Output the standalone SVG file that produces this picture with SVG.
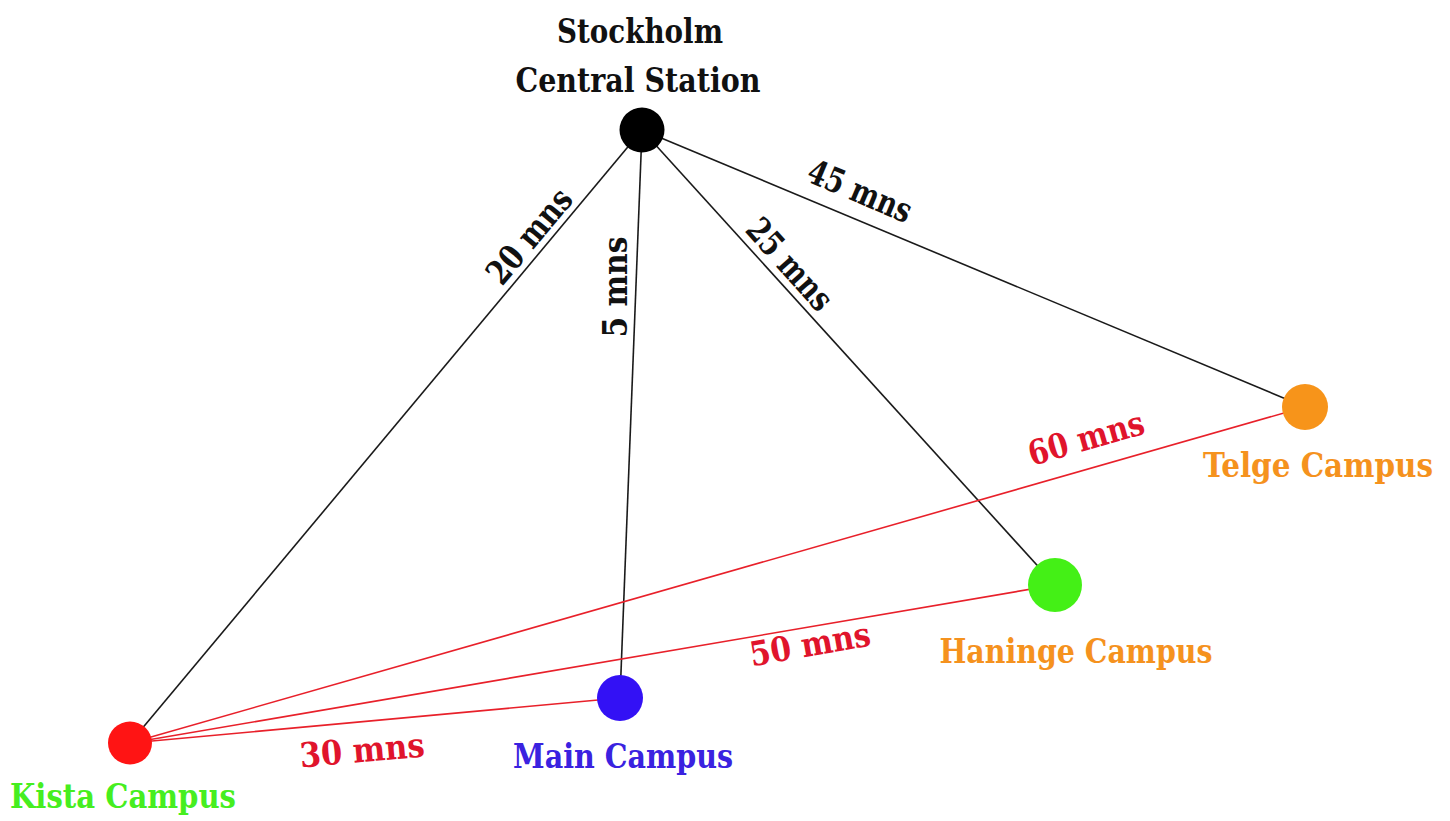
<svg xmlns="http://www.w3.org/2000/svg" width="1450" height="821" viewBox="0 0 1450 821">
<style>
text{font-family:"DejaVu Serif Condensed","DejaVu Serif","Liberation Serif",serif;font-weight:bold;font-size:34px;}
.lbl{text-anchor:middle;}
.el{text-anchor:middle;dominant-baseline:central;}
.blk{stroke:#1a1a1a;stroke-width:1.6;fill:none;}
.red{stroke:#e8202a;stroke-width:1.6;fill:none;}
.tb{fill:#111;}
.tr{fill:#e0142c;}
.to{fill:#f5921e;}
</style>
<rect width="1450" height="821" fill="#fff"/>
<g id="connectors">
<line class="blk" x1="642" y1="130" x2="130" y2="743"/>
<line class="blk" x1="642" y1="130" x2="620" y2="698"/>
<line class="blk" x1="642" y1="130" x2="1055" y2="585"/>
<line class="blk" x1="642" y1="130" x2="1305" y2="407"/>
<line class="red" x1="130" y1="743" x2="1305" y2="407"/>
<line class="red" x1="130" y1="743" x2="1055" y2="585"/>
<line class="red" x1="130" y1="743" x2="620" y2="698"/>
<text class="el tb" transform="translate(529,236) rotate(-50)" textLength="113" lengthAdjust="spacingAndGlyphs">20 mns</text>
<text class="el tb" transform="translate(615,287) rotate(-90)" textLength="101" lengthAdjust="spacingAndGlyphs">5 mns</text>
<text class="el tb" transform="translate(790,264) rotate(48)" textLength="111" lengthAdjust="spacingAndGlyphs">25 mns</text>
<text class="el tb" transform="translate(860,191) rotate(23)" textLength="110" lengthAdjust="spacingAndGlyphs">45 mns</text>
<text class="el tr" transform="translate(1086,438) rotate(-16)" textLength="119" lengthAdjust="spacingAndGlyphs">60 mns</text>
<text class="el tr" transform="translate(810,644) rotate(-10)" textLength="122" lengthAdjust="spacingAndGlyphs">50 mns</text>
<text class="el tr" transform="translate(362,750) rotate(-5)" textLength="125" lengthAdjust="spacingAndGlyphs">30 mns</text>
</g>
<g id="stockholm">
<circle cx="642" cy="130" r="22.5" fill="#000"/>
<text class="lbl tb" x="640" y="43" textLength="166" lengthAdjust="spacingAndGlyphs">Stockholm</text>
<text class="lbl tb" x="638" y="92" textLength="245" lengthAdjust="spacingAndGlyphs">Central Station</text>
</g>
<g id="telge">
<circle cx="1305" cy="407" r="23" fill="#f7941a"/>
<text class="lbl to" x="1318" y="477" textLength="230" lengthAdjust="spacingAndGlyphs">Telge Campus</text>
</g>
<g id="haninge">
<circle cx="1055" cy="585" r="27" fill="#44f016"/>
<text class="lbl to" x="1076" y="663" textLength="273" lengthAdjust="spacingAndGlyphs">Haninge Campus</text>
</g>
<g id="main">
<circle cx="620" cy="698" r="23" fill="#3311f5"/>
<text class="lbl" x="623" y="768" fill="#3a22e0" textLength="220" lengthAdjust="spacingAndGlyphs">Main Campus</text>
</g>
<g id="kista">
<ellipse cx="130" cy="743" rx="22" ry="21.5" fill="#ff1414"/>
<text class="lbl" x="123" y="808" fill="#46ee20" textLength="226" lengthAdjust="spacingAndGlyphs">Kista Campus</text>
</g>
</svg>
